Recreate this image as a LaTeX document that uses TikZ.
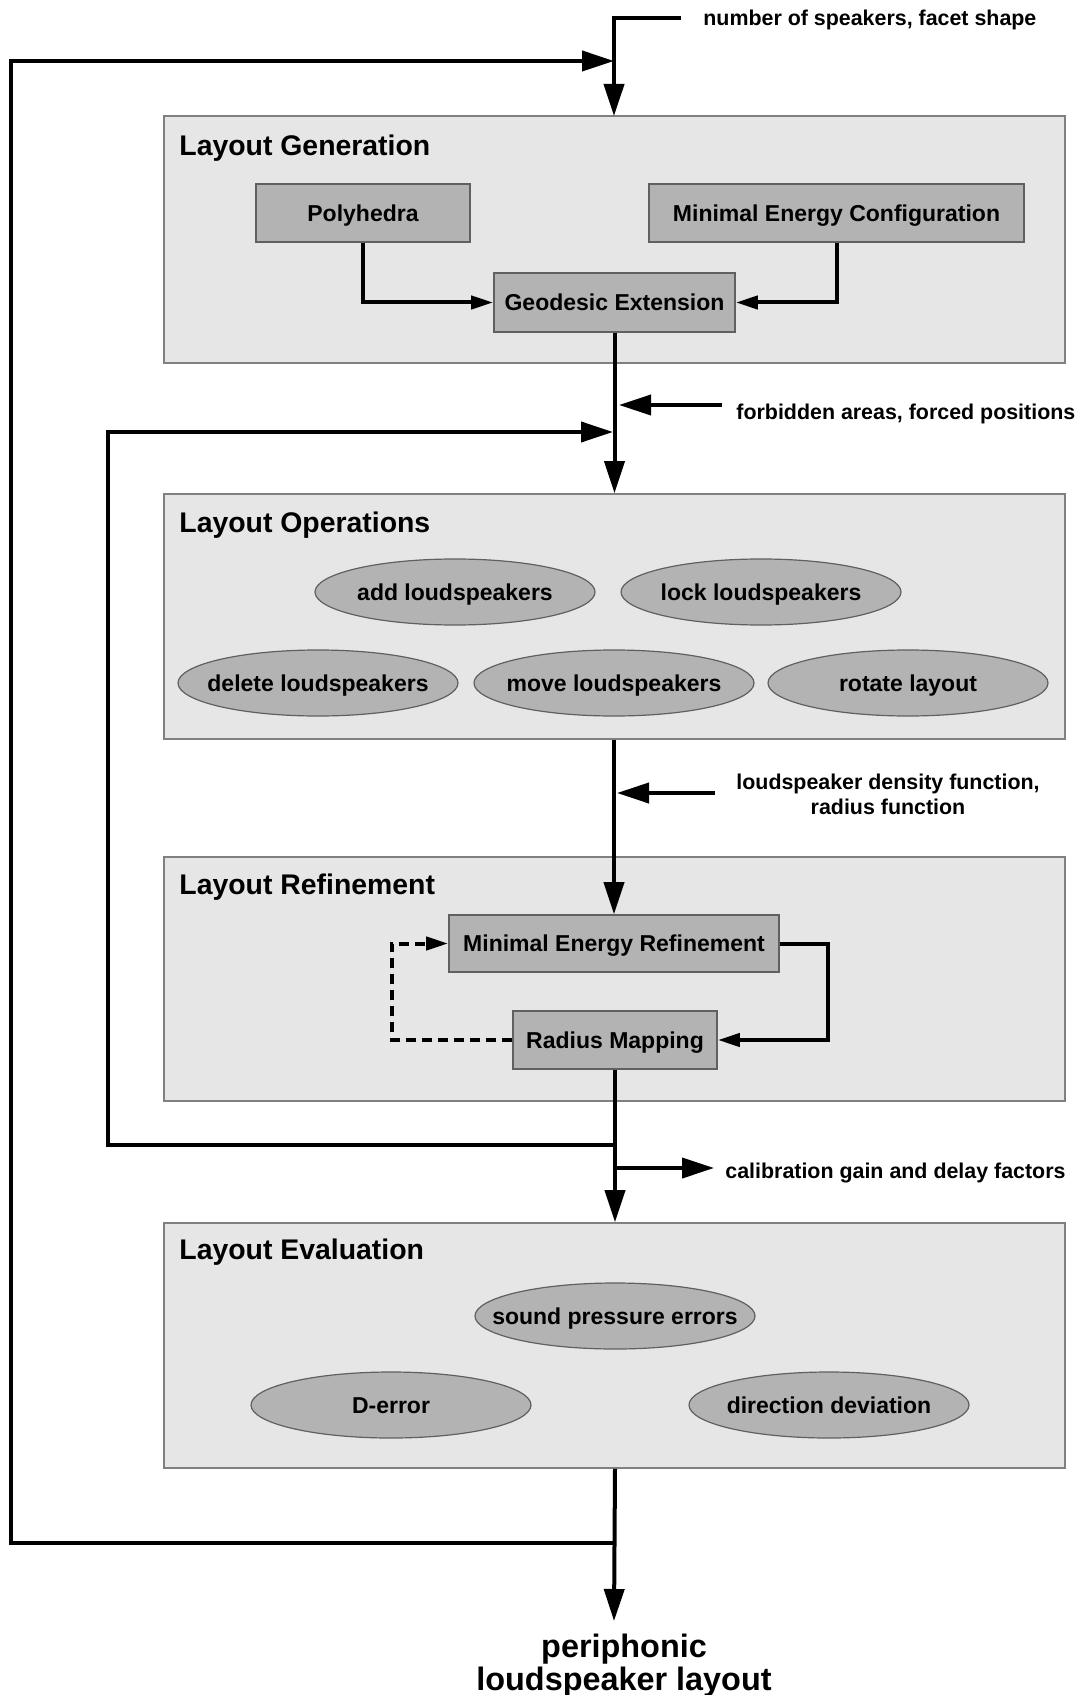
\documentclass[tikz,border=0pt]{standalone}
\usepackage{fontspec}
\setmainfont{Liberation Sans}
\usetikzlibrary{arrows.meta,shapes.geometric}
\definecolor{outerfill}{RGB}{230,230,230}
\definecolor{outerline}{RGB}{128,128,128}
\definecolor{innerfill}{RGB}{179,179,179}
\definecolor{innerline}{RGB}{96,96,96}
\newcommand{\zw}[1]{\makebox[0pt]{#1}}
\tikzset{
  outerbox/.style={draw=outerline, fill=outerfill, line width=0.8pt, minimum width=450.5pt, inner sep=0pt},
  innerbox/.style={draw=innerline, fill=innerfill, line width=0.8pt, inner sep=0pt, text height=8.3pt, text depth=0pt, font=\fontsize{11.5}{13}\selectfont\bfseries},
  oval/.style={ellipse, draw=innerline, fill=innerfill, line width=0.6pt, minimum width=140pt, minimum height=33pt, inner sep=0pt, text height=8.3pt, text depth=0pt, font=\fontsize{11.5}{13}\selectfont\bfseries},
  title/.style={anchor=west, inner sep=0pt, text height=10.2pt, text depth=0pt, font=\fontsize{14.2}{16}\selectfont\bfseries},
  lbl/.style={inner sep=0pt, text height=7.7pt, text depth=0pt, font=\fontsize{10.7}{12.5}\selectfont\bfseries},
  main/.style={line width=2pt},
  bigtip/.style={-{Triangle[length=16pt,width=10pt]}},
  smalltip/.style={-{Triangle[length=11pt,width=6.5pt]}},
}
\begin{document}
\begin{tikzpicture}[x=0.5pt,y=-0.5pt]
\useasboundingbox[fill=white] (0,0) rectangle (1082,1695);

% outer boxes
\node[outerbox, minimum height=123.5pt] (LG) at (614.5,239.5) {};
\node[outerbox, minimum height=122.5pt] (LO) at (614.5,616.5) {};
\node[outerbox, minimum height=122pt] (LR) at (614.5,979) {};
\node[outerbox, minimum height=122.5pt] (LE) at (614.5,1345.5) {};

\node[title] (tLG) at (179,145) {Layout Generation};
\node[title] (tLO) at (179,522) {Layout Operations};
\node[title] (tLR) at (179,884) {Layout Refinement};
\node[title] (tLE) at (179,1249) {Layout Evaluation};

% inner boxes
\node[innerbox, minimum width=107pt, minimum height=29pt] (Poly) at (363,213) {Polyhedra};
\node[innerbox, minimum width=187.5pt, minimum height=29pt] (MEC) at (836.5,213) {Minimal Energy Configuration};
\node[innerbox, minimum width=120.5pt, minimum height=29.5pt] (Geo) at (614.5,302.5) {Geodesic Extension};
\node[innerbox, minimum width=165pt, minimum height=28.5pt] (MER) at (614,943.5) {Minimal Energy Refinement};
\node[innerbox, minimum width=102pt, minimum height=29pt] (RM) at (615,1040) {Radius Mapping};

% ellipses
\node[oval] (add) at (455,592) {\zw{add loudspeakers}};
\node[oval] (lock) at (761,592) {\zw{lock loudspeakers}};
\node[oval] (del) at (318,683) {\zw{delete loudspeakers}};
\node[oval] (move) at (614,683) {\zw{move loudspeakers}};
\node[oval] (rot) at (908,683) {\zw{rotate layout}};
\node[oval] (spe) at (615,1316) {\zw{sound pressure errors}};
\node[oval] (derr) at (391,1405) {\zw{D-error}};
\node[oval] (dd) at (829,1405) {\zw{direction deviation}};

% labels
\node[lbl, anchor=west] (lNum) at (703,18) {number of speakers, facet shape};
\node[lbl, anchor=west] (lForb) at (736,412) {forbidden areas, forced positions};
\node[inner sep=0pt, align=center, font=\fontsize{10.7}{12.5}\selectfont\bfseries] (lDens) at (888,794) {loudspeaker density function,\\radius function};
\node[lbl, anchor=west] (lCal) at (725,1171) {calibration gain and delay factors};
\node[inner sep=0pt, align=center, font=\fontsize{16.2}{16.5}\selectfont\bfseries] (lOut) at (624,1666) {periphonic\\loudspeaker layout};

% coordinates
\coordinate (inA) at (681,18);
\coordinate (inB) at (614,18);
\coordinate (LGtop) at (614,116);
\coordinate (l1a) at (614,1543);
\coordinate (l1b) at (11,1543);
\coordinate (l1c) at (11,61);
\coordinate (l1d) at (614,61);
\coordinate (fA) at (722,405);
\coordinate (fB) at (619,405);
\coordinate (l2a) at (614,1145);
\coordinate (l2b) at (108,1145);
\coordinate (l2c) at (108,432);
\coordinate (l2d) at (613,432);
\coordinate (dA) at (715,793);
\coordinate (dB) at (617,793);
\coordinate (rC) at (828,943.5);
\coordinate (dC) at (392,1040);
\coordinate (cA) at (614,1168);
\coordinate (cB) at (714,1168);
\coordinate (outEnd) at (614,1621);

% connectors
\draw[main, bigtip] (inA) -- (inB) -- (LGtop);
\draw[main, bigtip] (l1a) -- (l1b) -- (l1c) -- (l1d);
\draw[main, smalltip] (Poly.south) |- (Geo.west);
\draw[main, smalltip] (MEC.south) |- (Geo.east);
\draw[main, bigtip] (Geo.south) -- (Geo.south |- LO.north);
\draw[main, bigtip] (fA) -- (fB);
\draw[main, bigtip] (l2a) -- (l2b) -- (l2c) -- (l2d);
\draw[main, bigtip] (LO.south -| MER.north) -- (MER.north);
\draw[main, bigtip] (dA) -- (dB);
\draw[main, smalltip] (MER.east) -- (rC) |- (RM.east);
\draw[main, smalltip, dash pattern=on 5pt off 3pt] (RM.west) -- (dC) |- (MER.west);
\draw[main, bigtip] (RM.south) -- (RM.south |- LE.north);
\draw[main, bigtip] (cA) -- (cB);
\draw[main, bigtip] (LE.south -| RM.south) -- (outEnd);
\end{tikzpicture}
\end{document}
